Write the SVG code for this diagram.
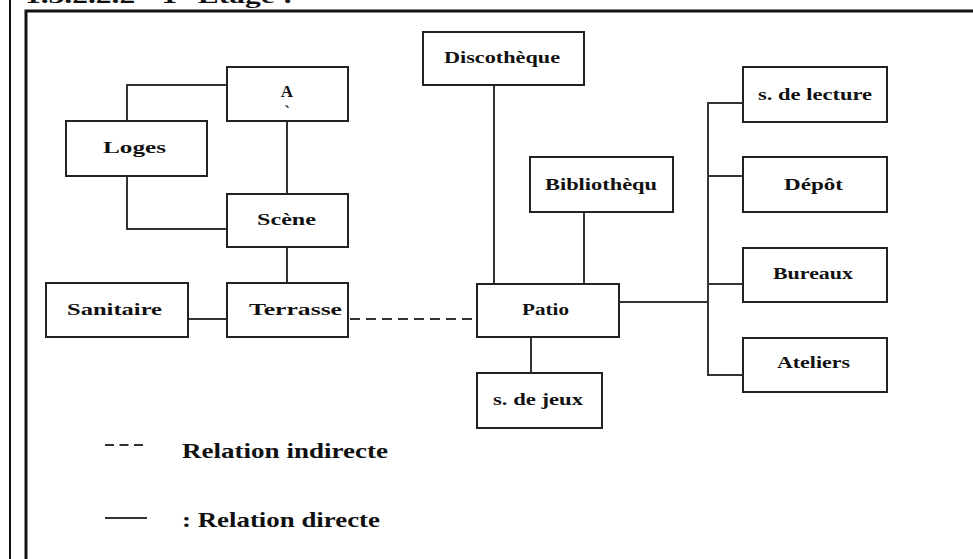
<svg xmlns="http://www.w3.org/2000/svg" width="973" height="559" viewBox="0 0 973 559">
<style>
.box{fill:#fff;stroke:#222;stroke-width:2}
.ln{fill:none;stroke:#333;stroke-width:2}
.dash{fill:none;stroke:#333;stroke-width:2;stroke-dasharray:10 6}
.t{font-family:"Liberation Serif","Times New Roman",serif;font-weight:bold;font-size:17px;fill:#111}
.lg{font-family:"Liberation Serif","Times New Roman",serif;font-weight:bold;font-size:21px;fill:#111}
</style>
<rect width="973" height="559" fill="#fff"/>
<text class="lg" x="25" y="3" textLength="268" lengthAdjust="spacingAndGlyphs">1.3.2.2.2 - 1° Etage :</text>
<line x1="10" y1="0" x2="10" y2="559" stroke="#111" stroke-width="2"/>
<path d="M973 11 H26 V559" fill="none" stroke="#111" stroke-width="3"/>
<g id="connectors">
<path class="ln" d="M127 121 V85 H227"/>
<path class="ln" d="M127 176 V229 H227"/>
<path class="ln" d="M287 121 V194"/>
<path class="ln" d="M287 247 V283"/>
<path class="ln" d="M188 319 H227"/>
<path class="dash" d="M350 319 H477"/>
<path class="ln" d="M494 85 V284"/>
<path class="ln" d="M584 212 V284"/>
<path class="ln" d="M531 337 V373"/>
<path class="ln" d="M619 302 H708"/>
<path class="ln" d="M743 103 H708 V375 H743"/>
<path class="ln" d="M708 176 H743"/>
<path class="ln" d="M708 284 H743"/>
</g>
<g id="A"><rect class="box" x="227" y="67" width="121" height="54"/><text class="t" x="287" y="97" text-anchor="middle">A</text><text class="t" x="287" y="117" text-anchor="middle" font-size="10">`</text></g>
<g id="loges"><rect class="box" x="66" y="121" width="141" height="55"/><text class="t" x="103" y="153" textLength="63" lengthAdjust="spacingAndGlyphs">Loges</text></g>
<g id="scene"><rect class="box" x="227" y="194" width="121" height="53"/><text class="t" x="257" y="225" textLength="59" lengthAdjust="spacingAndGlyphs">Scène</text></g>
<g id="sanitaire"><rect class="box" x="46" y="283" width="142" height="54"/><text class="t" x="67" y="315" textLength="95" lengthAdjust="spacingAndGlyphs">Sanitaire</text></g>
<g id="terrasse"><rect class="box" x="227" y="283" width="121" height="54"/><text class="t" x="249" y="315" textLength="93" lengthAdjust="spacingAndGlyphs">Terrasse</text></g>
<g id="discotheque"><rect class="box" x="423" y="32" width="161" height="53"/><text class="t" x="444" y="63" textLength="116" lengthAdjust="spacingAndGlyphs">Discothèque</text></g>
<g id="bibliotheque"><rect class="box" x="530" y="157" width="143" height="55"/><text class="t" x="545" y="190" textLength="112" lengthAdjust="spacingAndGlyphs">Bibliothèqu</text></g>
<g id="patio"><rect class="box" x="477" y="284" width="142" height="53"/><text class="t" x="522" y="315" textLength="47" lengthAdjust="spacingAndGlyphs">Patio</text></g>
<g id="jeux"><rect class="box" x="477" y="373" width="125" height="55"/><text class="t" x="493" y="405" textLength="90" lengthAdjust="spacingAndGlyphs">s. de jeux</text></g>
<g id="lecture"><rect class="box" x="743" y="67" width="144" height="55"/><text class="t" x="758" y="100" textLength="114" lengthAdjust="spacingAndGlyphs">s. de lecture</text></g>
<g id="depot"><rect class="box" x="743" y="157" width="144" height="55"/><text class="t" x="784" y="190" textLength="59" lengthAdjust="spacingAndGlyphs">Dépôt</text></g>
<g id="bureaux"><rect class="box" x="743" y="248" width="144" height="54"/><text class="t" x="773" y="279" textLength="80" lengthAdjust="spacingAndGlyphs">Bureaux</text></g>
<g id="ateliers"><rect class="box" x="743" y="338" width="144" height="54"/><text class="t" x="777" y="368" textLength="73" lengthAdjust="spacingAndGlyphs">Ateliers</text></g>
<g id="legend">
<path d="M105 445 H147" fill="none" stroke="#333" stroke-width="2" stroke-dasharray="9 5.5"/>
<text class="lg" x="182" y="458" textLength="206" lengthAdjust="spacingAndGlyphs">Relation indirecte</text>
<path class="ln" d="M105 518 H147"/>
<text class="lg" x="182" y="527" textLength="198" lengthAdjust="spacingAndGlyphs">: Relation directe</text>
</g>
</svg>
